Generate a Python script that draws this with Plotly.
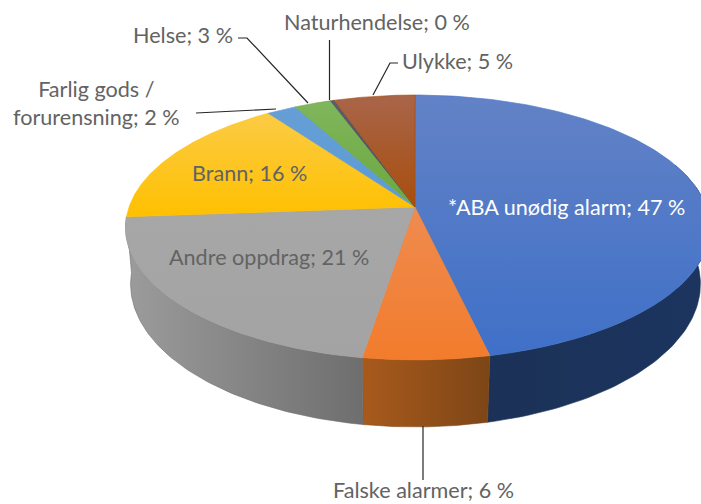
import numpy as np
import plotly.graph_objects as go

# Data
categories = ["*ABA unødig alarm", "Falske alarmer", "Andre oppdrag", "Brann",
              "Farlig gods /<br>forurensning", "Helse", "Naturhendelse", "Ulykke"]
printed_percent = [47, 6, 21, 16, 2, 3, 0, 5]          # as printed in the labels
slice_share = [46.5, 6.0, 21.3, 16.4, 1.9, 2.4, 0.25, 5.25]  # as measured from the slice angles

# Styles: (top colour start, top colour stop) run top-to-bottom, wall runs left-to-right
top_colors = [("#6382C6", "#3F70C8"), ("#EF8B50", "#F27C2C"), ("#A7A7A7", "#A3A3A3"),
              ("#FBCB45", "#FFC000"), ("#669FD6", "#5B9BD5"), ("#80B65C", "#6BA83F"),
              ("#5A5F70", "#4A4A55"), ("#A9654A", "#A84E0C")]
wall_colors = [("#1B3157", "#1C355F"), ("#A85A1C", "#7D4616"), ("#9C9C9C", "#6E6E6E")]
text_color = "#636363"
font_family = "Lato"
font_size = 21.6


# Perspective projection of the disc: top face and bottom face
def project(theta, cx, ax_left, ax_right, a, b, c=-0.1547):
    x, v = np.sin(theta), -np.cos(theta)
    d = 1 + c * v
    return cx + np.where(x < 0, ax_left, ax_right) * x / d, (a * v + b) / d


def top_face(theta):
    return project(theta, 415.0, 286.0, 291.4, 97.3, 207.0)


def bottom_face(theta):
    return project(theta, 415.0, 281.0, 282.0, 99.0, 261.9)


edges = np.radians(np.concatenate([[0], np.cumsum(slice_share)]) / sum(slice_share) * 360)
fig = go.Figure()


def add_polygon(xs, ys, colors, kind, start, stop):
    fig.add_trace(go.Scatter(
        x=xs, y=ys, mode="lines", fill="toself", hoverinfo="skip", showlegend=False,
        line=dict(width=0.6, color=colors[1]),
        fillgradient=dict(type=kind, start=start, stop=stop,
                          colorscale=[[0, colors[0]], [1, colors[1]]]),
    ))


# Walls first (only the three front slices show one), then the top face over them
vis_lo = np.radians(70)
for i, colors in enumerate(wall_colors):
    t = np.linspace(max(edges[i], vis_lo), edges[i + 1], 80)
    xt, yt = top_face(t)
    xb, yb = bottom_face(t[::-1])
    xs, ys = np.r_[xt, xb, xt[0]], np.r_[yt, yb, yt[0]]
    add_polygon(xs, ys, colors, "horizontal", float(xs.min()), float(xs.max()))

for i in range(len(slice_share)):
    t = np.linspace(edges[i], edges[i + 1], 160)
    xt, yt = top_face(t)
    xs = np.r_[415.0, xt, 415.0]
    ys = np.r_[207.0, yt, 207.0]
    add_polygon(xs, ys, top_colors[i], "vertical", float(ys.min()), float(ys.max()))

# Leader lines
leaders = [
    ([238, 247, 308], [38, 38, 103]),
    ([329.5, 329.5], [40, 100]),
    ([398, 390, 373], [63, 63, 95]),
    ([196, 276], [113, 109]),
    ([423, 423], [426, 480]),
]
for lx, ly in leaders:
    fig.add_trace(go.Scatter(x=lx, y=ly, mode="lines", hoverinfo="skip", showlegend=False,
                             line=dict(color="#262626", width=1.2)))

# Labels
placement = [
    (566, 207, "#FFFFFF"),
    (423, 490, text_color),
    (269, 257, text_color),
    (249, 173, text_color),
    (96, 103, text_color),
    (183, 35, text_color),
    (376.5, 22, text_color),
    (457.5, 61, text_color),
]
annotations = []
for name, pct, (px, py, col) in zip(categories, printed_percent, placement):
    annotations.append(dict(x=px, y=py, xref="x", yref="y", text=f"{name}; {pct} %",
                            showarrow=False, xanchor="center", yanchor="middle",
                            font=dict(family=font_family, size=font_size, color=col)))

fig.update_layout(
    width=701, height=504, autosize=False,
    margin=dict(l=0, r=0, t=0, b=0),
    paper_bgcolor="white", plot_bgcolor="white",
    xaxis=dict(range=[0, 701], visible=False, fixedrange=True),
    yaxis=dict(range=[504, 0], visible=False, fixedrange=True),
    annotations=annotations,
)
fig.write_html("out.html", config={"displayModeBar": False},
               post_script="document.body.style.margin='0';document.body.style.overflow='hidden';")
